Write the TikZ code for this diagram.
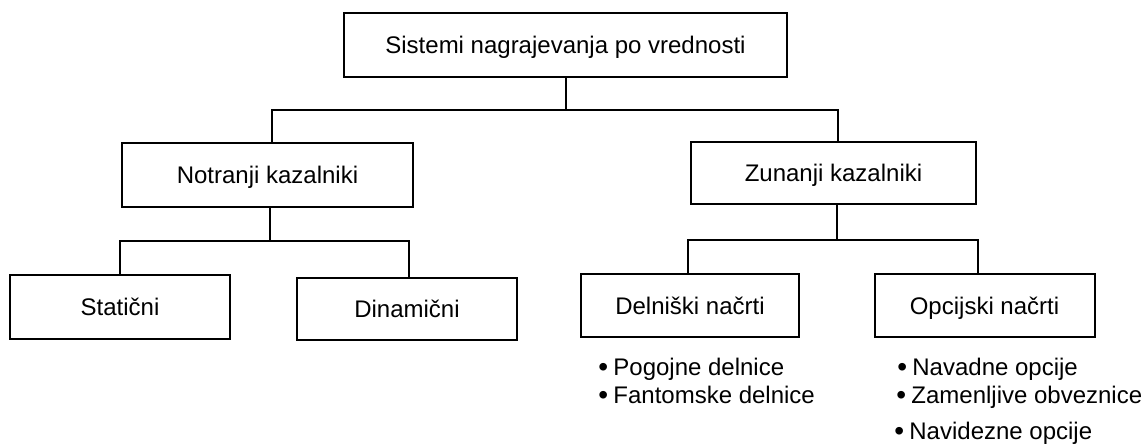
\documentclass[tikz,border=0pt]{standalone}
\usepackage{fontspec}
\setmainfont{Liberation Sans}
\newcommand{\blt}{{\fontsize{14}{14}\selectfont\raisebox{-0.6pt}{•}}\hspace{2.6pt}}
\begin{document}
\begin{tikzpicture}[x=0.5pt,y=-0.5pt,
  box/.style={draw=black,line width=1pt,fill=white,inner sep=0pt,
    text height=8.6pt,text depth=0pt,font=\fontsize{12}{14}\selectfont},
  conn/.style={draw=black,line width=1pt},
  item/.style={inner sep=0pt,anchor=base west,font=\fontsize{12}{14}\selectfont}]
\useasboundingbox (0,0) rectangle (1146,446);
% boxes
\node[box,minimum width=221.5pt,minimum height=32pt] (top) at (565.5,45) {Sistemi nagrajevanja po vrednosti};
\node[box,minimum width=145.5pt,minimum height=32pt] (notr) at (267.5,175) {Notranji kazalniki};
\node[box,minimum width=142.5pt,minimum height=31pt] (zun) at (833.5,173) {Zunanji kazalniki};
\node[box,minimum width=110pt,minimum height=32pt] (stat) at (120,307) {Statični};
\node[box,minimum width=110pt,minimum height=31pt] (din) at (407,309) {Dinamični};
\node[box,minimum width=109pt,minimum height=31.5pt] (deln) at (690,305.5) {Delniški načrti};
\node[box,minimum width=110pt,minimum height=31.5pt] (opc) at (984.5,305.5) {Opcijski načrti};
% junction coordinates
\coordinate (a1) at (272,110);
\coordinate (a2) at (838,110);
\coordinate (b0) at (270,241);
\coordinate (b1) at (120,241);
\coordinate (b2) at (409,241);
\coordinate (c0) at (837,240);
\coordinate (c1) at (688,240);
\coordinate (c2) at (978,240);
% connectors
\draw[conn] (top.south) -- (top.south|-a1);
\draw[conn] (a1|-notr.north) -- (a1) -- (a2) -- (a2|-zun.north);
\draw[conn] (b0|-notr.south) -- (b0);
\draw[conn] (b1|-stat.north) -- (b1) -- (b2) -- (b2|-din.north);
\draw[conn] (c0|-zun.south) -- (c0);
\draw[conn] (c1|-deln.north) -- (c1) -- (c2) -- (c2|-opc.north);
% bullet lists
\node[item] (p1) at (598,375) {\blt Pogojne delnice};
\node[item] (p2) at (598,403) {\blt Fantomske delnice};
\node[item] (q1) at (897,375) {\blt Navadne opcije};
\node[item] (q2) at (896,403) {\blt Zamenljive obveznice};
\node[item] (q3) at (894,439) {\blt Navidezne opcije};
\end{tikzpicture}
\end{document}
